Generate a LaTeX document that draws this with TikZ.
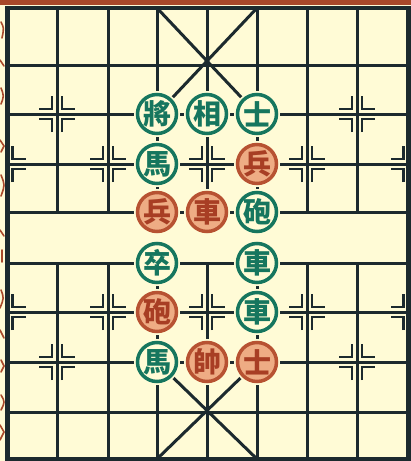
\documentclass[tikz,border=0pt]{standalone}
\usepackage{fontspec}
\newfontfamily\cjk{Noto Sans CJK TC}
\definecolor{bg}{RGB}{255,251,214}
\definecolor{ink}{RGB}{28,42,46}
\definecolor{grn}{RGB}{22,118,94}
\definecolor{rd}{RGB}{183,82,50}
\definecolor{rdin}{RGB}{238,172,132}
\definecolor{rdtx}{RGB}{168,62,36}
\definecolor{edge}{RGB}{168,72,42}
\tikzset{
  gridline/.style={draw=ink, line width=3pt},
  border/.style={draw=ink, line width=4.5pt},
  tick/.style={draw=ink, line width=2.4pt},
  piece/.style={circle, minimum size=39pt, inner sep=0pt, line width=3.5pt,
    preaction={draw=bg, line width=7pt},
    font=\cjk\bfseries\fontsize{28}{28}\selectfont},
  gpc/.style={piece, draw=grn, fill=bg, text=grn},
  rpc/.style={piece, draw=rd, fill=rdin, text=rdtx},
  rmark/.pic={\draw[tick] (5,-18) -- (5,-5) -- (18,-5); \draw[tick] (5,18) -- (5,5) -- (18,5);},
  lmark/.pic={\draw[tick] (-5,-18) -- (-5,-5) -- (-18,-5); \draw[tick] (-5,18) -- (-5,5) -- (-18,5);},
  fullmark/.pic={\pic {rmark}; \pic {lmark};}
}
\begin{document}
\begin{tikzpicture}[x=1pt,y=-1pt]
\fill[bg] (0,0) rectangle (411,461);
\useasboundingbox (0,0) rectangle (411,461);
\fill[edge] (0,0) rectangle (411,5);
% margin fragments
\begin{scope}[draw=edge, line width=1.6pt, line cap=round]
\draw (1,22) .. controls (4,28) .. (2,38);
\draw (0,60) -- (4,66);
\draw (1,88) .. controls (4,96) .. (1,104);
\draw (0,140) -- (4,146) -- (1,152);
\draw (1,175) .. controls (5,185) .. (1,196);
\draw (0,230) -- (4,236);
\draw (2,250) -- (2,262);
\draw (1,290) .. controls (4,298) .. (0,308);
\draw (0,330) -- (4,338);
\draw (1,360) -- (4,366) -- (1,372);
\draw (1,395) .. controls (5,402) .. (1,410);
\draw (0,425) -- (4,432) -- (0,440);
\end{scope}
% coordinates
\foreach \i/\x in {0/7.5,1/57,2/108,3/157,4/207,5/257,6/307,7/357,8/408.5}
  \foreach \j/\y in {0/8,1/65,2/114,3/164,4/212,5/263,6/312,7/362,8/412,9/459}
    \coordinate (p\i-\j) at (\x,\y);
% grid
\foreach \j in {1,...,8} \draw[gridline] (p0-\j) -- (p8-\j);
\foreach \i in {1,...,7} {
  \draw[gridline] (p\i-0) -- (p\i-4);
  \draw[gridline] (p\i-5) -- (p\i-9);
}
\draw[gridline] (p3-0) -- (p5-2);
\draw[gridline] (p5-0) -- (p3-2);
\draw[gridline] (p3-7) -- (p5-9);
\draw[gridline] (p5-7) -- (p3-9);
\draw[border] (p0-0) rectangle (p8-9);
% position marks
\pic at (p1-2) {fullmark};
\pic at (p7-2) {fullmark};
\pic at (p1-7) {fullmark};
\pic at (p7-7) {fullmark};
\foreach \j in {3,6} {
  \pic at (p0-\j) {rmark};
  \pic at (p2-\j) {fullmark};
  \pic at (p4-\j) {fullmark};
  \pic at (p6-\j) {fullmark};
  \pic at (p8-\j) {lmark};
}
% pieces
\node[gpc] (g1) at (p3-2) {將};
\node[gpc] (g2) at (p4-2) {相};
\node[gpc] (g3) at (p5-2) {士};
\node[gpc] (g4) at (p3-3) {馬};
\node[rpc] (r1) at (p5-3) {兵};
\node[rpc] (r2) at (p3-4) {兵};
\node[rpc] (r3) at (p4-4) {車};
\node[gpc] (g5) at (p5-4) {砲};
\node[gpc] (g6) at (p3-5) {卒};
\node[gpc] (g7) at (p5-5) {車};
\node[rpc] (r4) at (p3-6) {砲};
\node[gpc] (g8) at (p5-6) {車};
\node[gpc] (g9) at (p3-7) {馬};
\node[rpc] (r5) at (p4-7) {帥};
\node[rpc] (r6) at (p5-7) {士};
\end{tikzpicture}
\end{document}
